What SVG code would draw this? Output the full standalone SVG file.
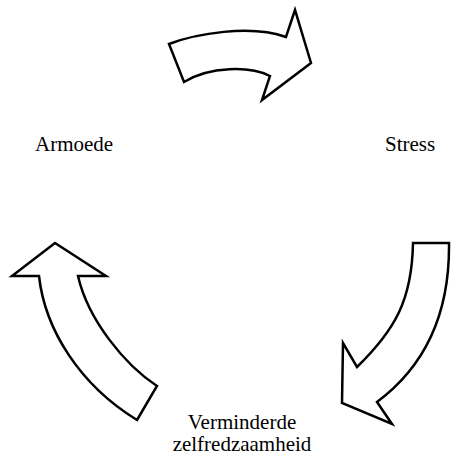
<svg xmlns="http://www.w3.org/2000/svg" width="451" height="455" viewBox="0 0 451 455">
  <style>
    .arrow { fill: #ffffff; stroke: #000000; stroke-width: 2.5; stroke-linejoin: miter; }
    .label { font-family: "Liberation Serif", "DejaVu Serif", "Times New Roman", serif; font-size: 21px; fill: #000000; }
  </style>
  <rect width="451" height="455" fill="#ffffff"/>
  <g id="connectors">
    <path class="arrow" d="M169,44 C195,34 250,24 286,37 L295,10 L311,63 L262,100 L270,76 C250,66 210,66 184,82 Z"/>
    <path class="arrow" d="M413,243 L449,243 C450,320 420,370 377,402 L392,424 L342,403 L343,343 L357,367 C395,330 412,300 413,243 Z"/>
    <path class="arrow" d="M137,420 L157,386 C125,365 88,320 78,276 L106,276 L55,243 L12,276 L39,276 C45,330 80,385 137,420 Z"/>
  </g>
  <g id="node-armoede">
    <text class="label" x="35" y="151" font-family="Liberation Serif, serif">Armoede</text>
  </g>
  <g id="node-stress">
    <text class="label" x="385" y="151" font-family="Liberation Serif, serif">Stress</text>
  </g>
  <g id="node-verminderde">
    <text class="label" x="242" y="429" text-anchor="middle" font-family="Liberation Serif, serif">Verminderde</text>
    <text class="label" x="242" y="451" text-anchor="middle" font-family="Liberation Serif, serif">zelfredzaamheid</text>
  </g>
</svg>
